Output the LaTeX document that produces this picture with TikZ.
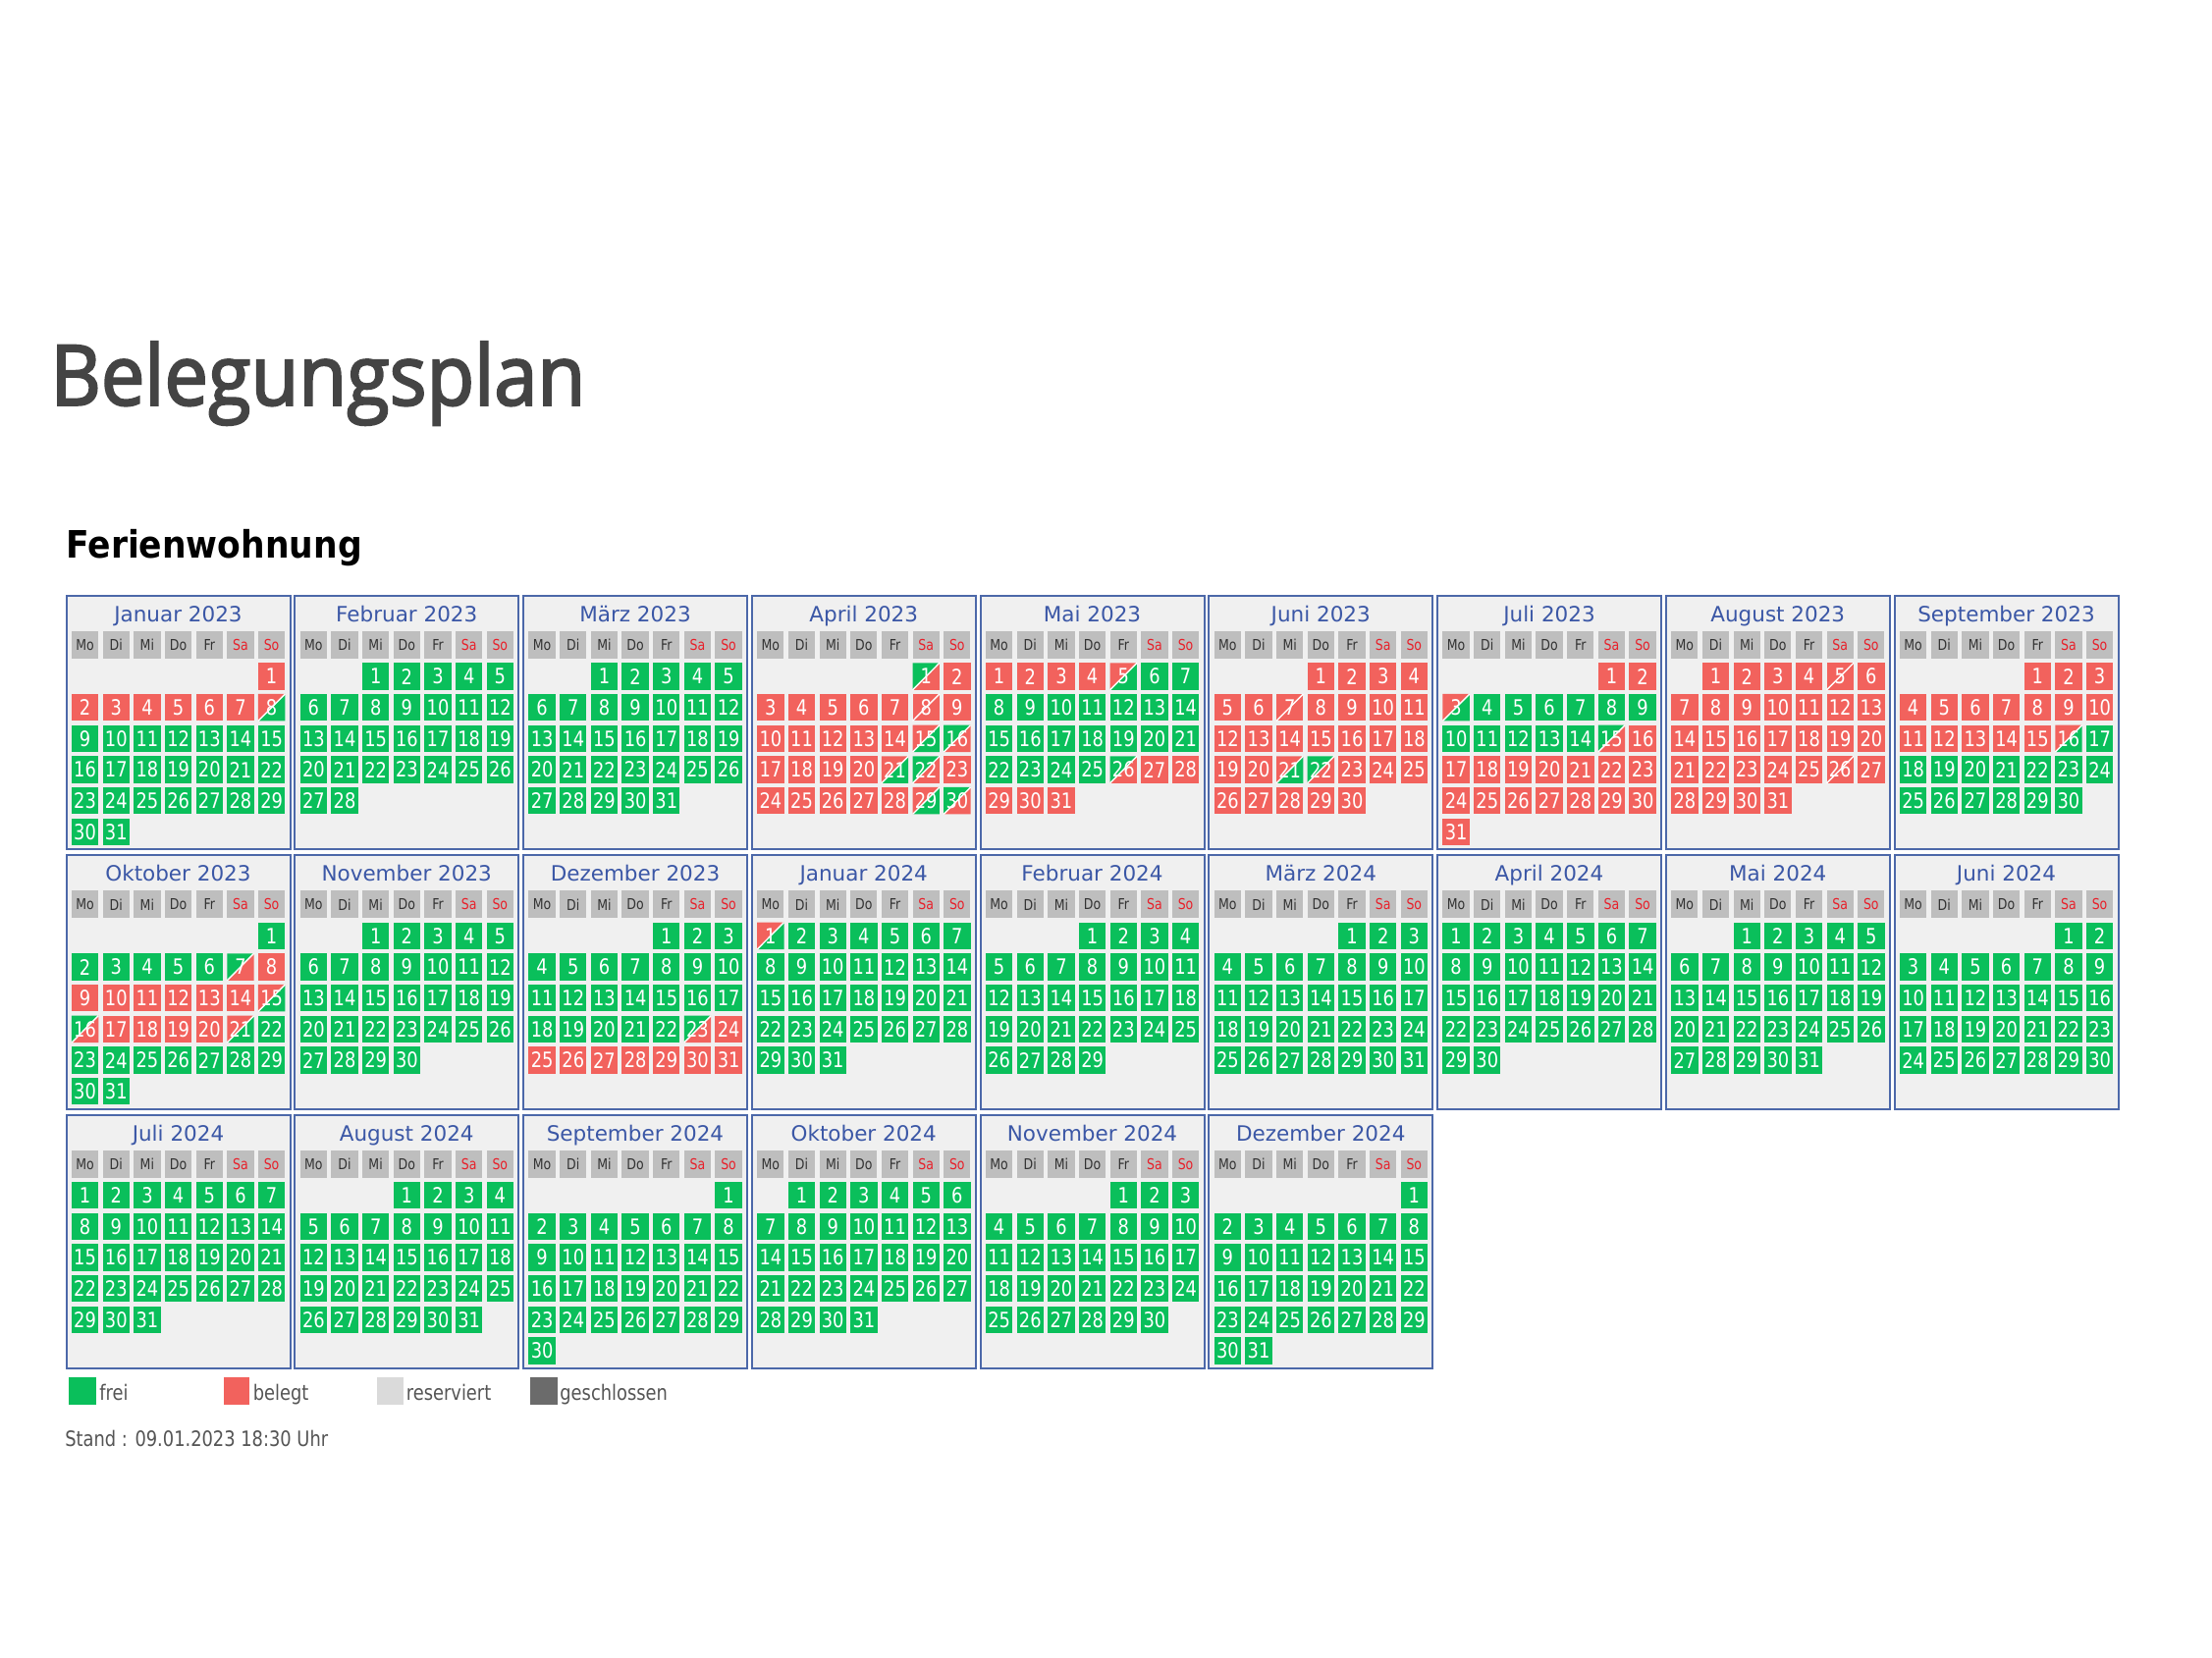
\documentclass[tikz,border=0pt]{standalone}
\usepackage{fontspec}
\usepackage{tikz}
\newfontfamily\titlefont[FakeStretch=0.93,FakeBold=2.5]{Open Sans}
\newfontfamily\calfont[FakeStretch=0.83]{DejaVu Sans}
\newfontfamily\subfont[FakeStretch=0.9]{DejaVu Sans}
\newfontfamily\monfont{DejaVu Sans}
\definecolor{cgreen}{HTML}{0ABF5B}
\definecolor{cred}{HTML}{F2625D}
\definecolor{hdgray}{HTML}{BEBEBE}
\definecolor{boxfill}{HTML}{F0F0F0}
\definecolor{boxline}{HTML}{4C68A9}
\definecolor{monblue}{HTML}{3B57A6}
\definecolor{hddark}{HTML}{333333}
\definecolor{wkred}{HTML}{E8202A}
\definecolor{lgray}{HTML}{DADADA}
\definecolor{dgray}{HTML}{6B6B6B}
\definecolor{legtxt}{HTML}{555555}
\definecolor{titlegray}{HTML}{444444}
\newcommand\calCW{27.4}
\newcommand\calCH{27.5}
\newcommand\setst[3]{\expandafter\gdef\csname st-#1-#2\endcsname{#3}}
\newcommand\setrange[4]{\foreach \q in {#2,...,#3}{\expandafter\gdef\csname st-#1-\q\endcsname{#4}}}
\newcommand\drawG[2]{\fill[cgreen] (#1,#2) rectangle ++(\calCW,\calCH);}
\newcommand\drawR[2]{\fill[cred] (#1,#2) rectangle ++(\calCW,\calCH);}
\newcommand\drawA[2]{%
  \fill[cgreen] (#1,#2) -- (#1+\calCW,#2) -- (#1,#2+\calCH) -- cycle;
  \fill[cred] (#1+\calCW,#2) -- (#1+\calCW,#2+\calCH) -- (#1,#2+\calCH) -- cycle;
  \draw[diagst] (#1,#2+\calCH) -- (#1+\calCW,#2);}
\newcommand\drawD[2]{%
  \fill[cred] (#1,#2) -- (#1+\calCW,#2) -- (#1,#2+\calCH) -- cycle;
  \fill[cgreen] (#1+\calCW,#2) -- (#1+\calCW,#2+\calCH) -- (#1,#2+\calCH) -- cycle;
  \draw[diagst] (#1,#2+\calCH) -- (#1+\calCW,#2);}
\newcommand\drawX[2]{%
  \fill[cred] (#1,#2) rectangle ++(\calCW,\calCH);
  \draw[diagst] (#1,#2+\calCH) -- (#1+\calCW,#2);}
% booking status (R = belegt, A = arrival, D = departure, X = change)
\setrange{1}{1}{7}{R}\setst{1}{8}{D}
\setst{4}{1}{A}\setrange{4}{2}{7}{R}\setst{4}{8}{X}\setrange{4}{9}{14}{R}
\setst{4}{15}{D}\setst{4}{16}{A}\setrange{4}{17}{20}{R}\setst{4}{21}{D}\setst{4}{22}{A}
\setrange{4}{23}{28}{R}\setst{4}{29}{D}\setst{4}{30}{A}
\setrange{5}{1}{4}{R}\setst{5}{5}{D}\setst{5}{26}{A}\setrange{5}{27}{31}{R}
\setrange{6}{1}{6}{R}\setst{6}{7}{X}\setrange{6}{8}{20}{R}\setst{6}{21}{D}\setst{6}{22}{A}\setrange{6}{23}{30}{R}
\setrange{7}{1}{2}{R}\setst{7}{3}{D}\setst{7}{15}{A}\setrange{7}{16}{31}{R}
\setrange{8}{1}{31}{R}\setst{8}{5}{X}\setst{8}{26}{X}
\setrange{9}{1}{15}{R}\setst{9}{16}{D}
\setst{10}{7}{A}\setrange{10}{8}{14}{R}\setst{10}{15}{D}\setst{10}{16}{A}\setrange{10}{17}{20}{R}\setst{10}{21}{D}
\setst{12}{23}{A}\setrange{12}{24}{31}{R}
\setst{13}{1}{D}
\tikzset{
  monbox/.style={draw=boxline,fill=boxfill,line width=1pt},
  montitle/.style={anchor=base,inner sep=0,text=monblue,font=\monfont\fontsize{10.75}{12}\selectfont},
  hdtext/.style={inner sep=0,font=\calfont\fontsize{7.55}{9}\selectfont},
  datest/.style={inner sep=0,text=white,font=\calfont\fontsize{10.75}{12}\selectfont},
  diagst/.style={draw=white,line width=0.7pt},
  legtext/.style={anchor=base west,inner sep=0,text=legtxt,font=\calfont\fontsize{10.75}{12}\selectfont}
}
\begin{document}
\begin{tikzpicture}[x=0.5pt,y=-0.5pt]
\useasboundingbox (0,0) rectangle (2253,1688);
\fill[white] (0,0) rectangle (2253,1688);
\node[anchor=base west,inner sep=0,text=titlegray,font=\titlefont\fontsize{42.7}{50}\selectfont] (title) at (51,412.7) {Belegungsplan};
\node[anchor=base west,inner sep=0,text=black,font=\subfont\bfseries\fontsize{19.2}{22}\selectfont] (sub) at (67,568) {Ferienwohnung};
\foreach \mi/\mc/\mr/\mname/\mo/\mn in {
1/0/0/Januar 2023/6/31, 2/1/0/Februar 2023/2/28, 3/2/0/März 2023/2/31, 4/3/0/April 2023/5/30,
5/4/0/Mai 2023/0/31, 6/5/0/Juni 2023/3/30, 7/6/0/Juli 2023/5/31, 8/7/0/August 2023/1/31,
9/8/0/September 2023/4/30, 10/0/1/Oktober 2023/6/31, 11/1/1/November 2023/2/30,
12/2/1/Dezember 2023/4/31, 13/3/1/Januar 2024/0/31, 14/4/1/Februar 2024/3/29,
15/5/1/März 2024/4/31, 16/6/1/April 2024/0/30, 17/7/1/Mai 2024/2/31, 18/8/1/Juni 2024/5/30,
19/0/2/Juli 2024/0/31, 20/1/2/August 2024/3/31, 21/2/2/September 2024/6/30,
22/3/2/Oktober 2024/1/31, 23/4/2/November 2024/4/30, 24/5/2/Dezember 2024/6/31}
{
  \pgfmathsetmacro\bx{67.5+\mc*232.75}
  \pgfmathsetmacro\by{607+\mr*264.3}
  \draw[monbox] (\bx,\by) rectangle ++(228,258.3);
  \node[montitle] (t\mi) at (\bx+114,\by+26.6) {\mname};
  \foreach \k/\lab in {0/Mo,1/Di,2/Mi,3/Do,4/Fr,5/Sa,6/So} {
    \ifnum\k>4 \def\hc{wkred}\else\def\hc{hddark}\fi
    \fill[hdgray] (\bx+5.4+\k*31.67,\by+36) rectangle ++(27.3,28);
    \node[hdtext,text=\hc] (h\mi-\k) at (\bx+5.4+\k*31.67+13.65,\by+50) {\lab};
  }
  \foreach \dd in {1,...,\mn} {
    \pgfmathtruncatemacro\calidx{\mo+\dd-1}
    \pgfmathtruncatemacro\calcol{mod(\calidx,7)}
    \pgfmathtruncatemacro\calrow{floor(\calidx/7)}
    \pgfmathsetmacro\calx{\bx+5.4+\calcol*31.67}
    \pgfmathsetmacro\caly{\by+68.3+\calrow*31.67}
    \ifcsname st-\mi-\dd\endcsname
      \csname draw\csname st-\mi-\dd\endcsname\endcsname{\calx}{\caly}
    \else
      \drawG{\calx}{\caly}
    \fi
    \node[datest] (d\mi-\dd) at (\calx+13.7,\caly+13.75) {\dd};
  }
}
% legend
\fill[cgreen] (70.4,1403.3) rectangle (98,1430.7);
\node[legtext] (lfrei) at (101,1426.7) {frei};
\fill[cred] (227.5,1403.3) rectangle (254,1430.7);
\node[legtext] (lbelegt) at (257.5,1426.7) {belegt};
\fill[lgray] (383.8,1403.3) rectangle (410.5,1430.7);
\node[legtext] (lres) at (413.5,1426.7) {reserviert};
\fill[dgray] (540,1403.3) rectangle (567.7,1430.7);
\node[legtext] (lgesch) at (570,1426.7) {geschlossen};
\node[legtext] (stand) at (66,1473) {Stand : 09.01.2023 18:30 Uhr};
\end{tikzpicture}
\end{document}
